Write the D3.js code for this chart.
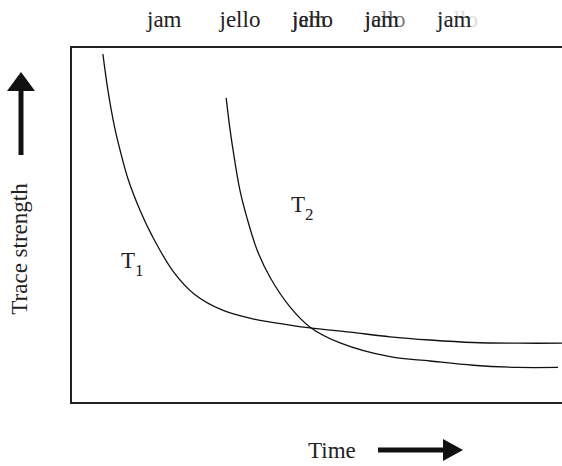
<!DOCTYPE html>
<html>
<head>
<meta charset="utf-8">
<script src="https://cdn.jsdelivr.net/npm/d3@7"></script>
<style>
  body { margin: 0; background: #fff; }
</style>
</head>
<body>
<svg id="canvas" width="562" height="466" font-family="'Liberation Serif', 'Times New Roman', Times, serif"></svg>
<script>
// top words (two layers, the second fading)
let wordsFront = ["jam", "jello", "jello", "jam", "jam"];
let wordsBack = [null, null, "jam", "jello", "jello"];
let backOpacity = [0, 0, 0.85, 0.6, 0.15];

// trace curves: time (0-10) vs strength (0-100)
let t1Time = [0.65, 0.75, 0.88, 1.0, 1.16, 1.41, 1.65, 2.08, 2.52, 3.1, 3.75, 4.46, 4.87, 5.68, 6.5, 7.31, 8.19, 9.14, 10];
let t1Strength = [98, 88, 78, 71, 63, 54, 47, 37, 30.5, 26, 23.5, 21.9, 21.1, 19.9, 18.6, 17.7, 17.0, 16.8, 16.8];
let t2Time = [3.16, 3.24, 3.3, 3.44, 3.58, 3.79, 4.05, 4.46, 4.87, 5.48, 6.5, 7.31, 8.19, 9.1, 9.92];
let t2Strength = [85.7, 76.7, 71.1, 59.8, 52.2, 43, 35.4, 27, 21.3, 16.9, 13.0, 11.8, 10.6, 10.0, 10.0];

let canvas = d3.select("#canvas");

let x = d3.scaleLinear().domain([0, 10]).range([71, 562]);
let y = d3.scaleLinear().domain([0, 100]).range([403, 47]);

// frame (open on the right)
canvas.append("path")
  .attr("d", `M${x.range()[1]},${y(100)}H${x(0)}V${y(0)}H${x.range()[1]}`)
  .attr("fill", "none")
  .attr("stroke", "#222")
  .attr("stroke-width", 2);

let line = d3.line()
  .x(d => x(d[0]))
  .y(d => y(d[1]))
  .curve(d3.curveCatmullRom);

let curves = [
  d3.zip(t1Time, t1Strength),
  d3.zip(t2Time, t2Strength)
];

canvas.selectAll(".trace")
  .data(curves)
  .enter()
  .append("path")
  .attr("class", "trace")
  .attr("d", line)
  .attr("fill", "none")
  .attr("stroke", "#111")
  .attr("stroke-width", 1.3);

// curve labels
let addLabel = (tx, ty, sub) => {
  let t = canvas.append("text")
    .attr("x", tx)
    .attr("y", ty)
    .attr("fill", "#222")
    .style("font-size", "23px");
  t.append("tspan").text("T");
  t.append("tspan").attr("dy", 8).style("font-size", "17px").text(sub);
};
addLabel(121, 268, "1");
addLabel(291, 212, "2");

// top words
let wordX = d3.scalePoint().domain(d3.range(wordsFront.length)).range([147, 437]);

wordsBack.forEach((w, i) => {
  if (w) {
    canvas.append("text")
      .attr("x", wordX(i))
      .attr("y", 27)
      .attr("fill", "#222")
      .style("font-size", "23px")
      .style("opacity", backOpacity[i])
      .text(w);
  }
});
canvas.selectAll(".front")
  .data(wordsFront)
  .enter()
  .append("text")
  .attr("class", "front")
  .attr("x", (d, i) => wordX(i))
  .attr("y", 27)
  .attr("fill", "#222")
  .style("font-size", "23px")
  .text(d => d);

// axis titles
canvas.append("text")
  .attr("transform", "translate(27,249) rotate(-90)")
  .attr("text-anchor", "middle")
  .attr("fill", "#222")
  .style("font-size", "23px")
  .text("Trace strength");

canvas.append("text")
  .attr("x", 308)
  .attr("y", 458)
  .attr("fill", "#222")
  .style("font-size", "23px")
  .text("Time");

// arrows
canvas.append("line")
  .attr("x1", 21).attr("y1", 155).attr("x2", 21).attr("y2", 86)
  .attr("stroke", "#111").attr("stroke-width", 5);
canvas.append("path")
  .attr("d", "M21,72L35,91L7,91Z")
  .attr("fill", "#111");

canvas.append("line")
  .attr("x1", 378).attr("y1", 450).attr("x2", 448).attr("y2", 450)
  .attr("stroke", "#111").attr("stroke-width", 5);
canvas.append("path")
  .attr("d", "M463,450L443,439L443,461Z")
  .attr("fill", "#111");
</script>
</body>
</html>
